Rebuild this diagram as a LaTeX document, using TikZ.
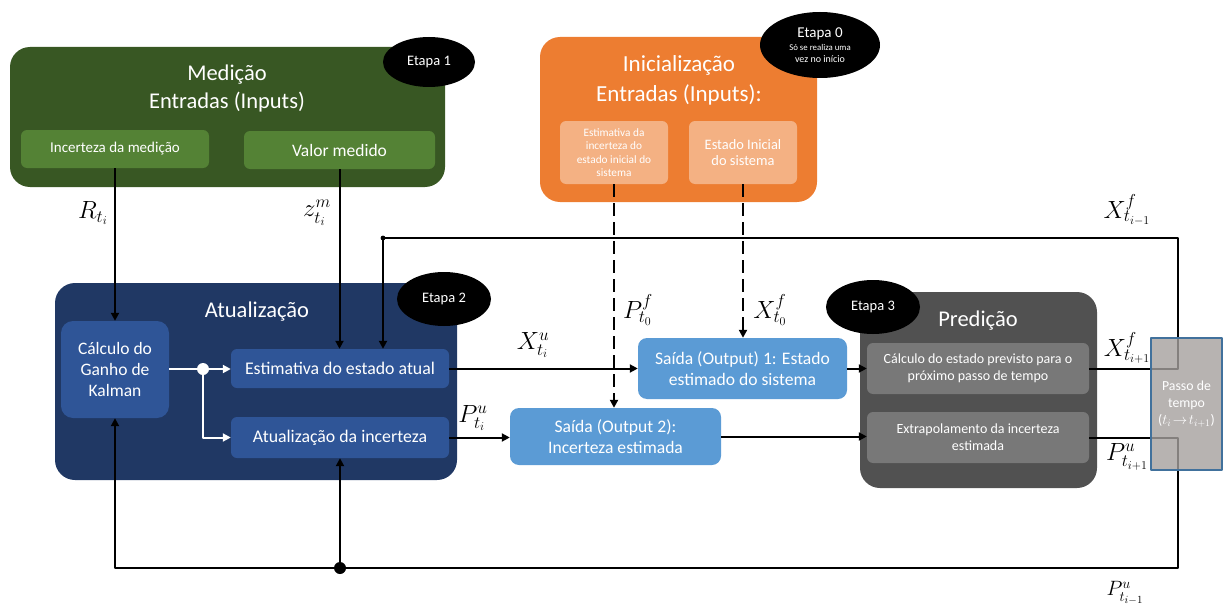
\documentclass[tikz,border=0pt]{standalone}
\usepackage{fontspec}
\setmainfont{Carlito}
\usetikzlibrary{arrows.meta,shapes.geometric}
\definecolor{medgreen}{HTML}{385723}
\definecolor{medlight}{HTML}{548235}
\definecolor{iniorange}{HTML}{ED7D31}
\definecolor{inilight}{HTML}{F4B183}
\definecolor{atunavy}{HTML}{203864}
\definecolor{atulight}{HTML}{2F5597}
\definecolor{outblue}{HTML}{5B9BD5}
\definecolor{predgray}{HTML}{515151}
\definecolor{predlight}{HTML}{787878}
\definecolor{passogray}{HTML}{A5A09E}
\definecolor{passoline}{HTML}{41719C}
\newcommand{\fsz}[1]{\fontsize{#1}{#1}\selectfont}
\begin{document}
\begin{tikzpicture}[x=1pt, y=-1pt, line join=round,
	bigbox/.style={rounded corners=20pt, inner sep=0pt},
	box/.style={rounded corners=6pt, text=white, align=center, inner sep=0pt},
	title/.style={text=white, align=center, font=\fontsize{22.5}{28}\selectfont},
	etapa/.style={ellipse, fill=black, text=white, align=center, inner sep=0pt},
	conn/.style={line width=2pt, -{Triangle[length=8pt,width=8pt]}},
	lbl/.style={font=\fontsize{25}{28}\selectfont}]
	\useasboundingbox (0,0) rectangle (1224,610);
	\node[bigbox, fill=medgreen, minimum width=435, minimum height=140] (med) at (227.5,117) {};
	\node[title] (medt) at (227,89) {Medição\\Entradas (Inputs)};
	\node[box, fill=medlight, minimum width=188, minimum height=38, font=\fsz{15}] (incm) at (115,149) {Incerteza da medição};
	\node[box, fill=medlight, minimum width=191, minimum height=38, font=\fsz{17.5}] (valm) at (339.5,150) {Valor medido};
	\node[bigbox, fill=iniorange, minimum width=277, minimum height=165] (ini) at (678.5,119.5) {};
	\node[title, font=\fontsize{23}{30}\selectfont] (init) at (679,80) {Inicialização\\Entradas (Inputs):};
	\node[box, fill=inilight, minimum width=108, minimum height=63, font=\fontsize{11.3}{13.3}\selectfont] (inip) at (614,152.5) {Estimativa da\\incerteza do\\estado inicial do\\sistema};
	\node[box, fill=inilight, minimum width=108, minimum height=63, font=\fontsize{14.4}{16.7}\selectfont] (inix) at (743,152.5) {Estado Inicial\\do sistema};
	\node[bigbox, fill=atunavy, minimum width=402, minimum height=197] (atu) at (256,381.5) {};
	\node[title] (atut) at (257,312) {Atualização};
	\node[box, rounded corners=12pt, fill=atulight, minimum width=108, minimum height=97, font=\fontsize{17.5}{21}\selectfont] (kal) at (115,369.5) {Cálculo do\\Ganho de\\Kalman};
	\node[box, fill=atulight, minimum width=218, minimum height=39, font=\fsz{17.8}] (est) at (340,368.5) {Estimativa do estado atual};
	\node[box, fill=atulight, minimum width=218, minimum height=41, font=\fsz{17.8}] (inc) at (340,437.5) {Atualização da incerteza};
	\node[box, rounded corners=9pt, fill=outblue, minimum width=209, minimum height=61, font=\fontsize{17.6}{21}\selectfont] (out1) at (742.5,368.5) {Saída (Output) 1: Estado\\estimado do sistema};
	\node[box, rounded corners=9pt, fill=outblue, minimum width=211, minimum height=57, font=\fontsize{17.6}{21}\selectfont] (out2) at (615.5,436.5) {Saída (Output 2):\\Incerteza estimada};
	\node[bigbox, fill=predgray, minimum width=237, minimum height=196] (pred) at (978.5,390) {};
	\node[title, font=\fontsize{22.5}{24}\selectfont] (predt) at (978,321) {Predição};
	\node[box, fill=predlight, minimum width=222, minimum height=51, font=\fontsize{14}{17}\selectfont] (prx) at (978,368.5) {Cálculo do estado previsto para o\\próximo passo de tempo};
	\node[box, fill=predlight, minimum width=222, minimum height=51, font=\fontsize{14}{17}\selectfont] (pru) at (978,437.5) {Extrapolamento da incerteza\\estimada};
	\node[etapa, minimum width=92, minimum height=50, font=\fsz{14.5}] (e1) at (429,62) {Etapa 1};
	\node[etapa, minimum width=120, minimum height=66] (e0) at (820,45) {\fsz{15}Etapa 0\\[1pt]\fontsize{8.8}{11}\selectfont Só se realiza uma\\vez no início};
	\node[etapa, minimum width=94, minimum height=54, font=\fsz{14.5}] (e2) at (444,299) {Etapa 2};
	\node[etapa, minimum width=94, minimum height=54, font=\fsz{14.5}] (e3) at (873,307) {Etapa 3};
	\coordinate (xl) at (383,238);
	\coordinate (xr) at (1178,238);
	\coordinate (pl) at (115,568);
	\coordinate (pr) at (1178,568);
	\coordinate (pj) at (340,568);
	\coordinate (wj) at (203,369);
	\draw[conn] (incm.south) -- (kal.north);
	\draw[conn] (valm.south) -- (valm.south |- est.north);
	\draw[conn, white] (kal.east |- wj) -- (wj) -- (wj -| est.west);
	\draw[conn, white] (wj) |- (inc.west);
	\fill[white] (wj) circle (6);
	\draw[conn, dash pattern=on 13pt off 6pt] (inip.south) -- (inip.south |- out2.north);
	\draw[conn, dash pattern=on 13pt off 6pt] (inix.south) -- (inix.south |- out1.north);
	\draw[conn] (est.east) -- (est.east -| out1.west);
	\draw[conn] (inc.east) -- (inc.east -| out2.west);
	\draw[conn] (out1.east) -- (out1.east -| prx.west);
	\draw[conn] (out2.east) -- (out2.east -| pru.west);
	\draw[conn] (prx.east) -- (prx.east -| xr) -- (xr) -- (xl) -- (xl |- est.north);
	\fill (xl) circle (2.4);
	\draw[conn] (pru.east) -- (pru.east -| pr) -- (pr) -- (pl) -- (kal.south);
	\draw[conn] (pj) -- (pj |- inc.south);
	\fill (pj) circle (6);
	\node[box, rounded corners=0pt, fill=passogray, fill opacity=0.8, text opacity=1, draw=passoline, line width=1.5pt, minimum width=71, minimum height=132, font=\fontsize{13.8}{17}\selectfont] (passo) at (1186.5,404) {Passo de\\tempo\\($t_i\!\rightarrow\! t_{i+1}$)};
	\node[lbl] (lr) at (93,213) {$R_{t_i}$};
	\node[lbl] (lz) at (317,213) {$z^m_{t_i}$};
	\node[lbl] (lxu) at (533,345) {$X^u_{t_i}$};
	\node[lbl] (lpu) at (473,418) {$P^u_{t_i}$};
	\node[lbl] (lpf) at (638,310) {$P^f_{t_0}$};
	\node[lbl] (lxf) at (770,310) {$X^f_{t_0}$};
	\node[lbl] (lxm) at (1127,210) {$X^f_{t_{i-1}}$};
	\node[lbl] (lxp) at (1127,348) {$X^f_{t_{i+1}}$};
	\node[lbl] (lpp) at (1127,457) {$P^u_{t_{i+1}}$};
	\node[lbl, font=\fontsize{22}{24}\selectfont] (lpm) at (1125,593) {$P^u_{t_{i-1}}$};
\end{tikzpicture}
\end{document}
